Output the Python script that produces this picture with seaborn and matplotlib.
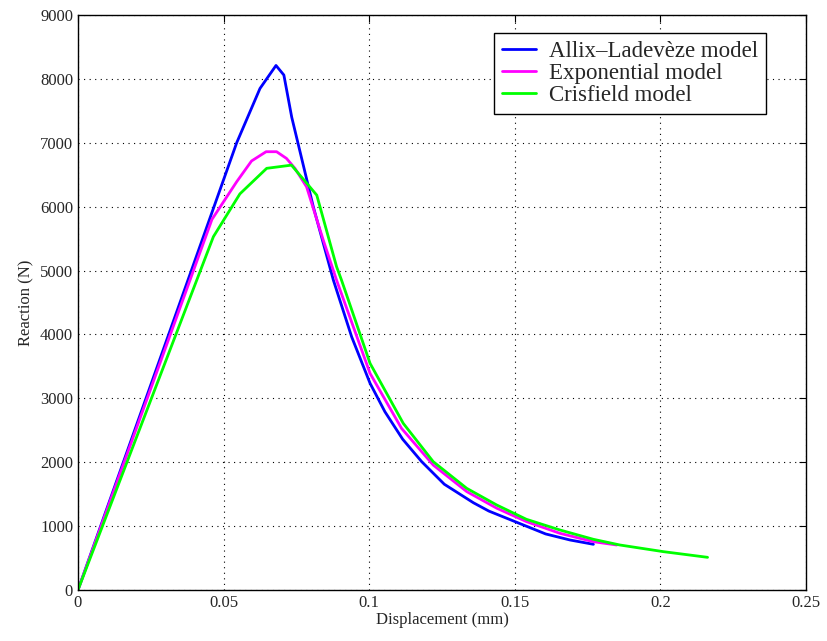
import numpy as np
import matplotlib
matplotlib.use("Agg")
import matplotlib.pyplot as plt
import seaborn as sns

# displacement (mm) / reaction (N)
allix_x = [0.0, 0.0545, 0.0625, 0.068, 0.0707, 0.0734, 0.0808, 0.0877, 0.094, 0.1003,
           0.1054, 0.1115, 0.118, 0.1258, 0.1358, 0.1411, 0.1509, 0.1606, 0.169, 0.177]
allix_y = [0, 7000, 7850, 8210, 8060, 7400, 6000, 4850, 3960, 3235,
           2790, 2360, 2010, 1655, 1365, 1235, 1055, 877, 782, 715]

expo_x = [0.0, 0.046, 0.0545, 0.0596, 0.0646, 0.0682, 0.0716, 0.0745, 0.0785, 0.0842,
          0.0888, 0.1003, 0.1111, 0.122, 0.1335, 0.1438, 0.154, 0.1655, 0.177, 0.185]
expo_y = [0, 5800, 6390, 6715, 6860, 6860, 6755, 6600, 6310, 5480,
          4850, 3390, 2530, 1955, 1540, 1280, 1070, 887, 756, 704]

cris_x = [0.0, 0.0465, 0.0556, 0.0648, 0.0733, 0.082, 0.0888, 0.0905, 0.1003, 0.1117,
          0.122, 0.1335, 0.1438, 0.154, 0.1655, 0.177, 0.1861, 0.201, 0.2162]
cris_y = [0, 5530, 6200, 6600, 6650, 6180, 5060, 4850, 3547, 2608,
          2008, 1591, 1330, 1106, 939, 793, 704, 600, 511]

labels = ["Allix\u2013Ladev\u00e8ze model", "Exponential model", "Crisfield model"]
colors = ["#0000ff", "#ff00ff", "#00ff00"]

sns.set_style("white")
plt.rcParams["font.family"] = ["Liberation Serif", "DejaVu Serif"]

fig = plt.figure(figsize=(8.27, 6.41), dpi=100)
ax = fig.add_axes([0.0943, 0.0796, 0.8803, 0.897])

series = [(allix_x, allix_y), (expo_x, expo_y), (cris_x, cris_y)]
for (xs, ys), lab, col in zip(series, labels, colors):
    sns.lineplot(x=xs, y=ys, ax=ax, color=col, label=lab, linewidth=2, sort=False)

ax.set_xlim(0, 0.25)
ax.set_ylim(0, 9000)
ax.set_xticks([0, 0.05, 0.1, 0.15, 0.2, 0.25])
ax.set_xticklabels(["0", "0.05", "0.1", "0.15", "0.2", "0.25"])
ax.set_yticks(range(0, 9001, 1000))
ax.tick_params(direction="in", top=True, right=True, labelsize=12, length=5, color="black")
ax.grid(True, linestyle=(0, (1, 4)), color="black", linewidth=0.8)
for s in ax.spines.values():
    s.set_color("black")
    s.set_linewidth(1)

ax.set_xlabel("Displacement (mm)", fontsize=12, labelpad=1)
ax.set_ylabel("Reaction (N)", fontsize=12, labelpad=4)

leg = ax.legend(loc="upper right", bbox_to_anchor=(0.945, 0.969), borderaxespad=0,
                fontsize=16.5, frameon=True, fancybox=False, edgecolor="black",
                framealpha=1, handlelength=1.5, handletextpad=0.55,
                borderpad=0.35, labelspacing=0.05)
leg.get_frame().set_linewidth(1)

fig.savefig("out.png", dpi=100)
